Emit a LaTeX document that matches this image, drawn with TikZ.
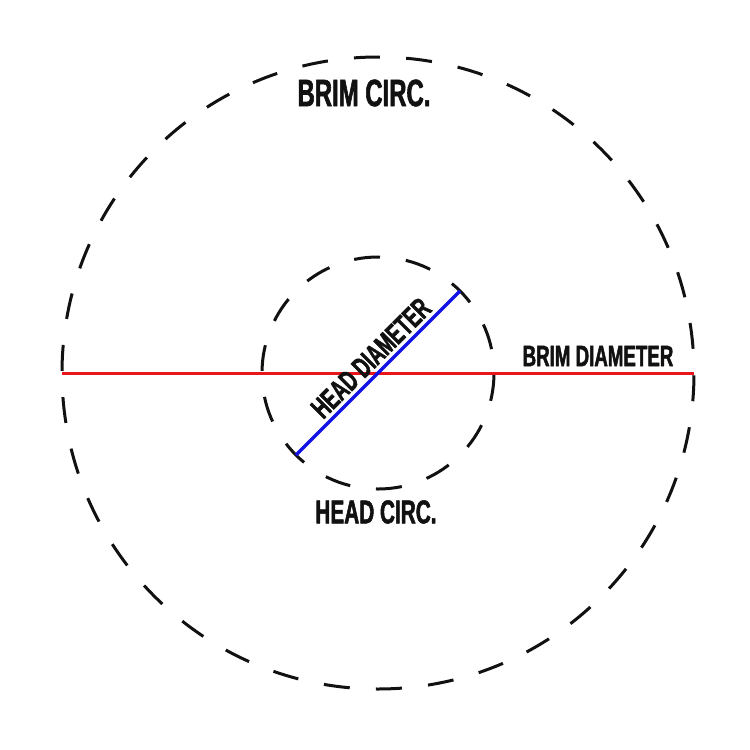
\documentclass[tikz,border=0pt]{standalone}
\usepackage{fontspec}
\usetikzlibrary{calc}
\newfontfamily\hatfont[FakeStretch=0.63,FakeBold=1.6]{Liberation Sans}
\definecolor{hatInk}{HTML}{111111}
\definecolor{hatRed}{HTML}{E8161B}
\definecolor{hatBlue}{HTML}{1212E6}
\begin{document}
\begin{tikzpicture}[x=1pt,y=-1pt,line cap=butt,line join=round]
\path[fill=white] (0,0) rectangle (750,750);
\tikzset{rim/.style={draw=hatInk,line width=3pt,dash phase=50pt},redline/.style={draw=hatRed,line width=3pt},blueline/.style={draw=hatBlue,line width=3.2pt},lbl/.style={text=hatInk,inner sep=0pt}}
\coordinate (hatC) at (378,373);
\coordinate (brimL) at (62,373); \coordinate (brimR) at (694,373);
\coordinate (headA) at ($(hatC)+(135:116)$); \coordinate (headB) at ($(hatC)+(-45:116)$);
% circles
\draw[rim,dash pattern=on 26pt off 26.25pt] (hatC) circle (316);
\draw[rim,dash pattern=on 26pt off 26.06pt] (hatC) circle (116);
% diameters
\draw[redline] (brimL) -- (brimR);
\draw[blueline] (headA) -- (headB);
% labels
\node[lbl,font=\hatfont\bfseries\fontsize{38}{38}\selectfont] (brimCirc) at (364,93) {BRIM CIRC.};
\node[lbl,font=\hatfont\bfseries\fontsize{29.7}{30}\selectfont] (brimDiam) at (598,356) {BRIM DIAMETER};
\node[lbl,font=\hatfont\bfseries\fontsize{33}{33}\selectfont] (headCirc) at (376,512) {HEAD CIRC.};
\node[lbl,font=\hatfont\bfseries\fontsize{29.5}{30}\selectfont,rotate=45] (headDiam) at (371,358) {HEAD DIAMETER};
\end{tikzpicture}
\end{document}
